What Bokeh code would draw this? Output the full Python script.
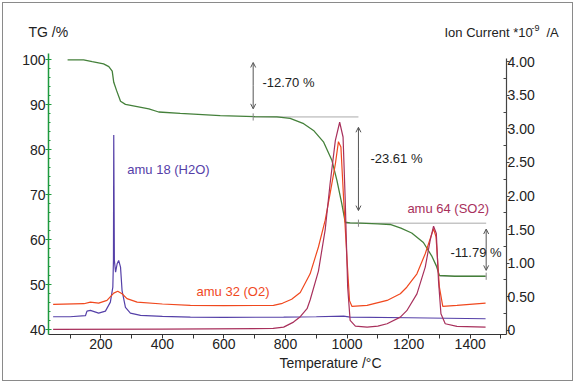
from bokeh.plotting import figure
from bokeh.layouts import column
from bokeh.models import (Range1d, LinearAxis, FixedTicker, CustomJSTickFormatter,
                          Label, Arrow, OpenHead)
from bokeh.embed import file_html
from bokeh.resources import INLINE

# ---------------- data ----------------
tg_t = [92, 144, 172, 209, 226, 237, 242, 251, 264, 280, 318, 356, 388, 458, 588, 700, 772,
        815, 859, 891, 924, 951, 967, 983, 994, 1010, 1043, 1100, 1140, 1175, 1210, 1248,
        1276, 1290, 1300, 1350, 1450]
tg_v = [100.0, 100.0, 99.6, 99.1, 98.5, 97.5, 95.0, 93.2, 90.8, 90.1, 89.6, 89.1, 88.4, 88.1,
        87.6, 87.35, 87.3, 87.0, 85.8, 84.3, 81.7, 77.6, 73.2, 68.0, 63.9, 63.75, 63.7, 63.55,
        63.4, 62.6, 61.5, 59.4, 56.3, 54.2, 52.1, 51.9, 51.9]

h2o_t = [45, 100, 150, 155, 166, 193, 215, 231, 239, 241, 242, 244, 248, 253, 258, 264, 269,
         280, 296, 329, 400, 491, 600, 794, 900, 989, 1010, 1200, 1450]
h2o_v = [0.20, 0.20, 0.215, 0.284, 0.294, 0.254, 0.284, 0.418, 0.64, 1.04, 2.91, 1.04, 0.866,
         0.99, 1.04, 0.94, 0.59, 0.34, 0.254, 0.22, 0.205, 0.194, 0.19, 0.194, 0.2, 0.209,
         0.194, 0.185, 0.17]

o2_t = [45, 145, 166, 193, 220, 242, 255, 269, 285, 318, 400, 491, 600, 761, 790, 820, 848,
        880, 907, 929, 945, 962, 972, 980, 989, 1000, 1008, 1016, 1065, 1130, 1173, 1194,
        1227, 1254, 1272, 1281, 1289, 1300, 1311, 1357, 1450]
o2_v = [0.384, 0.394, 0.418, 0.403, 0.443, 0.552, 0.58, 0.543, 0.469, 0.418, 0.39, 0.369,
        0.365, 0.369, 0.40, 0.46, 0.56, 0.84, 1.24, 1.64, 2.04, 2.48, 2.81, 2.73, 1.94, 1.04,
        0.44, 0.354, 0.369, 0.443, 0.543, 0.64, 0.84, 1.14, 1.39, 1.51, 1.39, 0.64, 0.354,
        0.369, 0.403]

so2_t = [45, 400, 760, 794, 826, 848, 870, 880, 907, 929, 945, 962, 976, 987, 994, 1002, 1010,
         1027, 1065, 1100, 1130, 1173, 1194, 1227, 1254, 1270, 1281, 1290, 1297, 1305, 1319,
         1357, 1450]
so2_v = [0.01, 0.015, 0.025, 0.045, 0.12, 0.2, 0.32, 0.45, 0.88, 1.5, 2.19, 2.83, 3.10, 2.88,
         1.94, 0.64, 0.145, 0.06, 0.045, 0.06, 0.095, 0.194, 0.29, 0.54, 0.94, 1.34, 1.55,
         1.44, 0.74, 0.245, 0.095, 0.055, 0.045]

# mass-loss steps
step_levels = [100.0, 87.30, 63.69, 51.90]
step_temps = [695, 1037, 1452]
step_line_start = [695, 994, 1300]
step_labels = ["-12.70 %", "-23.61 %", "-11.79 %"]

x_ticks = [200, 400, 600, 800, 1000, 1200, 1400]
x_minor = [100, 300, 500, 700, 900, 1100, 1300, 1500]
tg_ticks = [40, 50, 60, 70, 80, 90, 100]
tg_minor = [42, 44, 46, 48, 52, 54, 56, 58, 62, 64, 66, 68, 72, 74, 76, 78, 82, 84, 86, 88,
            92, 94, 96, 98]
ion_ticks = [0, 0.5, 1.0, 1.5, 2.0, 2.5, 3.0, 3.5, 4.0]
ion_minor = [0.25, 0.75, 1.25, 1.75, 2.25, 2.75, 3.25, 3.75]

# ---------------- style ----------------
FONT = "Liberation Sans"
C_TG = "#44803a"
C_AX_G = "#1f9a3f"
C_H2O = "#5540a8"
C_O2 = "#f0481e"
C_SO2 = "#a8305c"
C_TXT = "#222222"
W = 569


def blank(h):
    f = figure(width=W, height=h, output_backend="svg", toolbar_location=None,
               x_range=Range1d(0, W), y_range=Range1d(0, h),
               x_axis_type=None, y_axis_type=None, min_border=0)
    f.outline_line_color = None
    f.grid.visible = False
    f.frame_align = False
    return f


def hlab(f, x, y, text, size, align="left"):
    f.add_layout(Label(x=x, y=y, text=text, text_color=C_TXT, text_font=FONT,
                       text_font_size=size, text_align=align, text_baseline="middle"))


# header with axis titles
head = blank(42)
hlab(head, 25, 14, "TG /%", "14px")
hlab(head, 441, 13.3, "Ion Current *10", "13px")
hlab(head, 528, 17.5, "-9", "9px")
hlab(head, 543, 13.3, "/A", "13px")

# footer with x title
foot = blank(26)
hlab(foot, 327, 17.5, "Temperature /°C", "14px", align="center")

# main plot
p = figure(width=W, height=309, output_backend="svg", toolbar_location=None,
           x_range=Range1d(30, 1518), y_range=Range1d(38.95, 101.4),
           min_border_left=45, min_border_right=66, min_border_top=8,
           min_border_bottom=20)
p.outline_line_color = None
p.grid.visible = False
p.extra_y_ranges = {"ion": Range1d(-0.065, 4.125)}

xa = p.xaxis[0]
xa.ticker = FixedTicker(ticks=x_ticks, minor_ticks=x_minor)
xa.axis_line_color = "#333333"
xa.major_tick_line_color = "#333333"
xa.minor_tick_line_color = "#333333"
xa.major_tick_in = 0
xa.major_tick_out = 4
xa.minor_tick_in = 0
xa.minor_tick_out = 4
xa.major_label_standoff = 0
xa.major_label_text_font = FONT
xa.major_label_text_font_size = "14px"
xa.major_label_text_color = C_TXT

ya = p.yaxis[0]
ya.ticker = FixedTicker(ticks=tg_ticks, minor_ticks=tg_minor)
ya.axis_line_color = C_AX_G
ya.axis_line_width = 1.5
ya.major_tick_line_color = C_AX_G
ya.minor_tick_line_color = C_AX_G
ya.major_tick_in = 3
ya.major_tick_out = 3
ya.minor_tick_in = 2
ya.minor_tick_out = 0
ya.major_label_standoff = 0
ya.major_label_text_font = FONT
ya.major_label_text_font_size = "14px"
ya.major_label_text_color = C_TXT

ra = LinearAxis(y_range_name="ion",
                ticker=FixedTicker(ticks=ion_ticks, minor_ticks=ion_minor),
                formatter=CustomJSTickFormatter(code="return tick == 0 ? '0' : tick.toFixed(2);"),
                bounds=(-0.065, 4.05))
ra.axis_line_color = "#444444"
ra.axis_line_width = 1.2
ra.major_tick_line_color = "#444444"
ra.minor_tick_line_color = "#444444"
ra.major_tick_in = 0
ra.major_tick_out = 3
ra.minor_tick_in = 3
ra.minor_tick_out = 0
ra.major_label_standoff = -2
ra.major_label_text_font = FONT
ra.major_label_text_font_size = "14px"
ra.major_label_text_color = C_TXT
p.add_layout(ra, "right")

# reference lines for the steps
GRAY = "#aaaaaa"
p.segment(x0=step_line_start, y0=step_levels[1:], x1=[step_temps[1], step_temps[2], step_temps[2]],
          y1=step_levels[1:], line_color=GRAY, line_width=1)

# curves
p.line(tg_t, tg_v, line_color=C_TG, line_width=1.3)
p.line(h2o_t, h2o_v, line_color=C_H2O, line_width=1.2, y_range_name="ion")
p.line(o2_t, o2_v, line_color=C_O2, line_width=1.2, y_range_name="ion")
p.line(so2_t, so2_v, line_color=C_SO2, line_width=1.2, y_range_name="ion")

# small cross ticks at the arrow bases
p.segment(x0=step_temps, x1=step_temps,
          y0=[v - 0.8 for v in step_levels[1:]], y1=[v + 0.8 for v in step_levels[1:]],
          line_color="#888888", line_width=1)

# double-headed arrows
AC = "#555555"
gaps_top = [0.6, 2.3, 1.3]
gaps_bot = [1.8, 2.8, 1.3]
for i in range(3):
    top = step_levels[i] - gaps_top[i]
    bot = step_levels[i + 1] + gaps_bot[i]
    for end_y in (top, bot):
        p.add_layout(Arrow(x_start=step_temps[i], y_start=(top + bot) / 2,
                           x_end=step_temps[i], y_end=end_y,
                           end=OpenHead(size=5, line_color=AC, line_width=1),
                           line_color=AC, line_width=1))


def lab(x, y, text, color=C_TXT, size="13px"):
    p.add_layout(Label(x=x, y=y, text=text, text_color=color, text_font=FONT,
                       text_font_size=size, text_align="left", text_baseline="middle"))

lab(725, 95.0, step_labels[0])
lab(1076, 78.0, step_labels[1])
lab(1336, 57.2, step_labels[2])
lab(286, 75.6, "amu 18 (H2O)", color=C_H2O)
lab(511, 48.6, "amu 32 (O2)", color=C_O2)
lab(1196, 67.0, "amu 64 (SO2)", color=C_SO2)

layout = column(head, p, foot, spacing=0,
                styles={"border": "1px solid #8a8a8a", "margin-left": "2px",
                        "margin-top": "2px"})

open("out.html", "w").write(file_html(layout, INLINE))
